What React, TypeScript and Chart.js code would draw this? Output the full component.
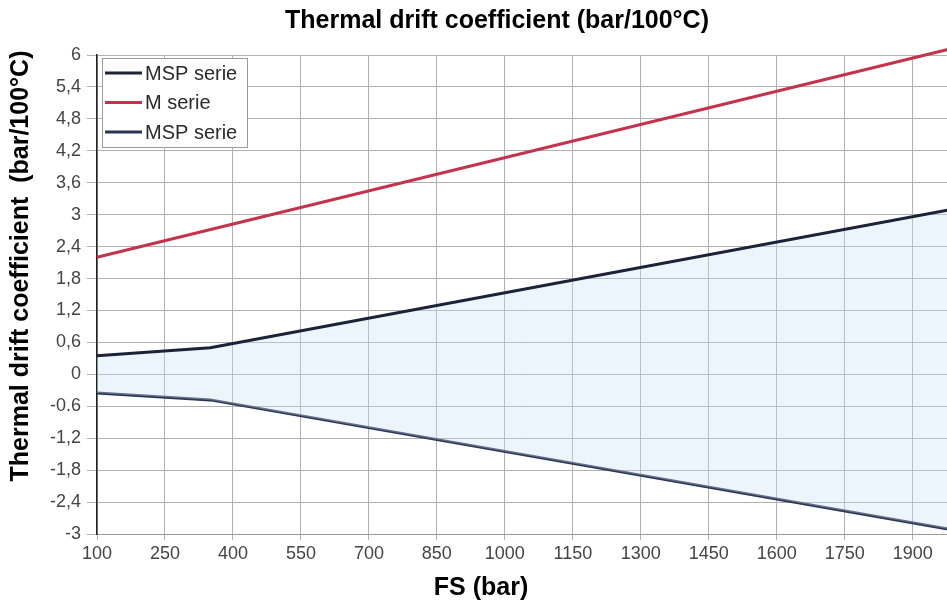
import React, { useEffect, useRef } from "react";
import { Chart, registerables } from "chart.js";

Chart.register(...registerables);

// ---- data ----
const mspFs = [100, 350, 2000];
const mspUpper = [0.35, 0.5, 3.12];
const mspLower = [-0.35, -0.48, -2.94];
const mFs = [100, 2000];
const mValues = [2.2, 6.15];

const xTicks = [100, 250, 400, 550, 700, 850, 1000, 1150, 1300, 1450, 1600, 1750, 1900];
const yTicks = [-3, -2.4, -1.8, -1.2, -0.6, 0, 0.6, 1.2, 1.8, 2.4, 3, 3.6, 4.2, 4.8, 5.4, 6];
const yTickLabels = ["-3", "-2,4", "-1,8", "-1,2", "-0.6", "0", "0,6", "1,2", "1,8", "2,4", "3", "3,6", "4,2", "4,8", "5,4", "6"];

const seriesNames = ["MSP serie", "M serie", "MSP serie"];
const chartTitle = "Thermal drift coefficient (bar/100°C)";
const yTitle = "Thermal drift coefficient  (bar/100°C)";
const xTitle = "FS (bar)";

const FONT = "'Liberation Sans', Arial, sans-serif";
const W = 1000;
const H = 608;

export default function App() {
  const ref = useRef<HTMLCanvasElement | null>(null);

  useEffect(() => {
    if (!ref.current) return;
    const colors = ["#1c2237", "#c4334b", "#2b3452"];

    const overlay = {
      id: "overlay",
      afterDatasetsDraw(chart: any) {
        const ctx = chart.ctx;
        const ds = chart.data.datasets;
        const bx = 102, by = 58, bw = 145, bh = 89;
        ctx.save();
        ctx.fillStyle = "#ffffff";
        ctx.fillRect(bx, by, bw, bh);
        ctx.strokeStyle = "#9a9a9a";
        ctx.lineWidth = 1;
        ctx.strokeRect(bx + 0.5, by + 0.5, bw, bh);
        ctx.font = `20px ${FONT}`;
        ctx.textBaseline = "middle";
        ctx.textAlign = "left";
        for (let i = 0; i < ds.length; i++) {
          const yy = 73 + i * 29.5;
          ctx.strokeStyle = ds[i].borderColor;
          ctx.lineWidth = 3;
          ctx.beginPath();
          ctx.moveTo(105, yy);
          ctx.lineTo(142, yy);
          ctx.stroke();
          ctx.fillStyle = "#2a2a2a";
          ctx.fillText(ds[i].label, 145, yy + 1);
        }
        ctx.restore();
      },
      afterDraw(chart: any) {
        const ctx = chart.ctx;
        ctx.save();
        ctx.fillStyle = "#000";
        ctx.font = `bold 25px ${FONT}`;
        ctx.textAlign = "center";
        ctx.textBaseline = "middle";
        ctx.fillText(chartTitle, 497, 21);
        ctx.fillText(xTitle, 481, 588);
        ctx.translate(21, 266);
        ctx.rotate(-Math.PI / 2);
        ctx.fillText(yTitle, 0, 0);
        ctx.restore();
      },
    };

    const chart = new Chart(ref.current, {
      type: "line",
      data: {
        datasets: [
          {
            label: seriesNames[0],
            data: mspFs.map((x, i) => ({ x, y: mspUpper[i] })),
            borderColor: colors[0],
            borderWidth: 3,
            pointRadius: 0,
            tension: 0,
            fill: { target: 2 },
            backgroundColor: "rgba(200,224,246,0.35)",
          },
          {
            label: seriesNames[1],
            data: mFs.map((x, i) => ({ x, y: mValues[i] })),
            borderColor: colors[1],
            borderWidth: 3,
            pointRadius: 0,
            tension: 0,
            fill: false,
            clip: false as any,
          },
          {
            label: seriesNames[2],
            data: mspFs.map((x, i) => ({ x, y: mspLower[i] })),
            borderColor: colors[2],
            borderWidth: 3,
            pointRadius: 0,
            tension: 0,
            fill: false,
          },
        ],
      },
      options: {
        responsive: false,
        animation: false,
        devicePixelRatio: 1,
        layout: { padding: { top: 55, right: 42, left: 0, bottom: 0 } },
        plugins: {
          legend: { display: false },
          title: { display: false },
          tooltip: { enabled: false },
        },
        scales: {
          x: {
            type: "linear",
            min: 100,
            max: 2000,
            afterBuildTicks: (s: any) => {
              s.ticks = xTicks.map((v) => ({ value: v }));
            },
            afterFit: (s: any) => {
              s.height = H - 534;
            },
            grid: { color: "#b0b0b0", lineWidth: 1, tickLength: 6 },
            border: { color: "#9a9a9a", width: 1 },
            ticks: {
              color: "#444",
              font: { size: 18, family: FONT },
              padding: 3,
              maxRotation: 0,
              autoSkip: false,
              callback: (v: any) => String(v),
            },
          },
          y: {
            type: "linear",
            min: -3,
            max: 6,
            afterBuildTicks: (s: any) => {
              s.ticks = yTicks.map((v) => ({ value: v }));
            },
            afterFit: (s: any) => {
              s.width = 97;
            },
            grid: { color: "#b0b0b0", lineWidth: 1, tickLength: 10 },
            border: { color: "#222", width: 1.5 },
            ticks: {
              color: "#444",
              font: { size: 18, family: FONT },
              padding: 6,
              autoSkip: false,
              callback: (v: any) => {
                const idx = yTicks.findIndex((t) => Math.abs(t - Number(v)) < 1e-6);
                return idx >= 0 ? yTickLabels[idx] : "";
              },
            },
          },
        },
      },
      plugins: [overlay],
    });
    return () => chart.destroy();
  }, []);

  return (
    <div
      style={{
        position: "fixed",
        left: 0,
        top: 0,
        width: 947,
        height: 608,
        overflow: "hidden",
        background: "#fff",
      }}
    >
      <canvas ref={ref} width={W} height={H} style={{ display: "block" }} />
    </div>
  );
}
